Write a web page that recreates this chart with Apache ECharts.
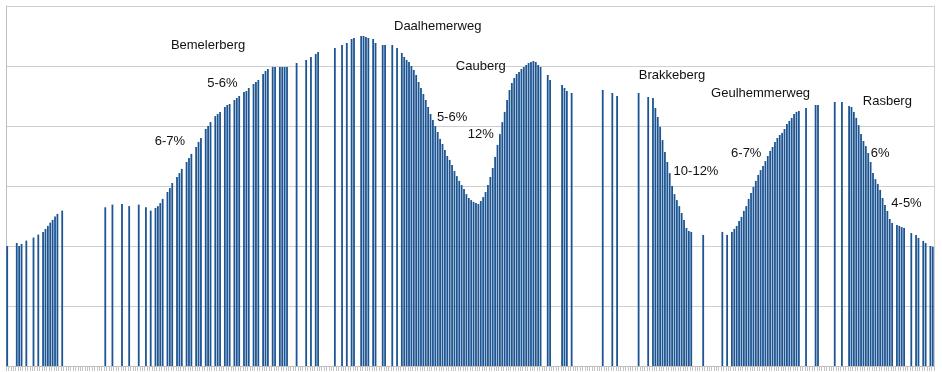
<!DOCTYPE html>
<html>
<head>
<meta charset="utf-8">
<script src="https://cdn.jsdelivr.net/npm/echarts@6/dist/echarts.min.js"></script>
<style>html,body{margin:0;padding:0;background:#fff}#c{width:942px;height:372px}</style>
</head>
<body>
<div id="c"></div>
<script>
// elevation per distance step (null = no sample)
const elevation = [
40,null,null,null,41,40,40.7,null,41.8,null,
null,42.8,null,43.8,null,44.7,45.7,46.7,47.8,48.7,
49.8,50.7,null,51.8,null,null,null,null,null,null,
null,null,null,null,null,null,null,null,null,null,
null,52.9,null,null,53.8,null,null,null,54,null,
null,53.3,null,null,null,53.8,null,null,52.9,null,
51.8,null,52.7,53.3,54.3,55.7,null,58,59.3,61,
null,63,64.3,65.7,null,68,69.3,70.7,null,73,
74.7,76,null,79,80,81.3,null,83.3,84,84.7,
null,86.3,87,87.3,null,88.7,89.3,90,null,91.3,
91.7,92.7,null,94,94.7,95.3,null,97.3,98.3,99,
null,99.7,99.7,null,99.7,99.7,99.7,99.7,null,null,
null,101,null,null,null,102,null,103,null,104,
104.7,null,null,null,null,null,null,106,null,null,
107,null,107.7,null,109,109.3,null,null,110,110,
109.7,109.3,null,109,107.7,null,null,107,107,null,
null,107,null,106,null,104.3,103,102,101.3,100,
98.7,97,94.7,92.7,90.7,88.7,86.3,84,82,80,
78,75.7,74,72,70,68.7,67,65,63.3,61.7,
60.3,59,57.3,56,55.3,54.7,54.3,54,55,56.3,
58,60.3,63,66,69.7,73.7,77.3,81.3,84.7,88.7,
92,94.3,96,97.3,98,99,99.7,100.3,101,101.3,
101.7,101.3,100.3,99.7,null,null,97,95.3,null,null,
null,null,93.7,92.7,91.7,null,91,null,null,null,
null,null,null,null,null,null,null,null,null,92,
null,null,null,91,null,90,null,null,null,null,
null,null,null,null,91,null,null,null,89.7,null,
89.3,86,83,79.7,75.3,71.3,68,64.3,60,57.3,
55.3,53.3,51,48.7,46,45,44.7,null,null,null,
null,43.7,null,null,null,null,null,null,null,44.7,
null,43.7,null,44.7,45.7,46.7,48.3,49.7,51.7,53.3,
55.7,57.7,59.7,61.7,63.7,65.3,66.7,68.3,70,71.7,
73,74.7,76,77,77.7,79,80.7,81.7,82.7,84,
84.7,85,null,null,86,null,null,null,87,87,
null,null,null,null,null,null,88,null,null,88,
null,null,86.7,86.3,84.7,82.7,80.3,77.3,75,73.3,
71,68,64.3,62.3,60.7,58.7,56,53.7,51.7,49,
47.7,null,47,46.7,46.3,46,null,null,44.3,null,
43.7,42.7,null,41.7,41,null,40,39.7
];
const categories = elevation.map((_, i) => String(i));
const yTicks = [0, 20, 40, 60, 80, 100, 120];

// annotations: text, category index, elevation anchor
const labelText = ['Bemelerberg','5-6%','6-7%','Daalhemerweg','Cauberg','5-6%','12%','Brakkeberg','Geulhemmerweg','Rasberg','10-12%','6-7%','6%','4-5%'];
const labelIndex = [84,90,68,180,198,186,198,278,315,368,288,309,365,376];
const labelValue = [106.7,94.3,74.7,113.3,99.7,83,77.3,97,91,88.3,65,70.7,70.7,54.3];

const chart = echarts.init(document.getElementById('c'), null, {renderer:'canvas'});
const option = {
  animation: false,
  grid: {left: 6, right: 8, top: 6, bottom: 6, containLabel: false},
  xAxis: {
    type: 'category', data: categories, boundaryGap: true,
    axisLine: {show: true, lineStyle: {color: '#bdbdbd', width: 1}},
    axisTick: {show: true, interval: 0, length: 5, lineStyle: {color: '#c4c4c4'}},
    axisLabel: {show: false}, splitLine: {show: false}
  },
  yAxis: [{
    type: 'value', min: yTicks[0], max: yTicks[yTicks.length-1], interval: 20,
    axisLine: {show: true, lineStyle: {color: '#bdbdbd'}},
    axisTick: {show: false}, axisLabel: {show: false},
    splitLine: {show: true, lineStyle: {color: '#cfcfcf', width: 1}}
  },{
    type: 'value', position: 'right', min: yTicks[0], max: yTicks[yTicks.length-1], interval: 20,
    axisLine: {show: true, lineStyle: {color: '#cfcfcf'}},
    axisTick: {show: false}, axisLabel: {show: false}, splitLine: {show: false}
  }],
  series: [{
    type: 'bar', data: elevation, barWidth: 1.8,
    itemStyle: {color: '#1d5593'}
  }]
};
chart.setOption(option);
const graphics = labelText.map((t, k) => {
  const p = chart.convertToPixel({gridIndex: 0}, [labelIndex[k], labelValue[k]]);
  return {type: 'text', x: p[0], y: p[1], style: {text: t, fill: '#111', font: '13px "Liberation Sans", Arial, sans-serif', textAlign: 'center', textVerticalAlign: 'middle'}};
});
chart.setOption({graphic: graphics});
</script>
</body>
</html>
